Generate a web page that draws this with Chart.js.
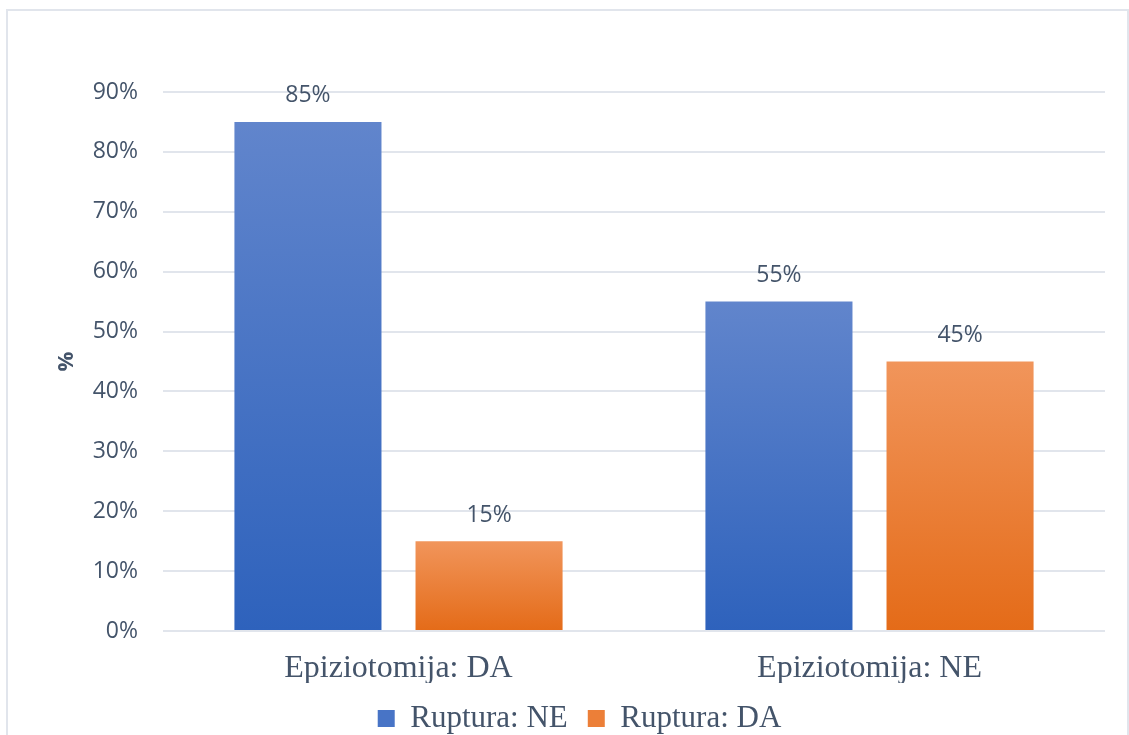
<!DOCTYPE html>
<html>
<head>
<meta charset="utf-8">
<script src="https://cdn.jsdelivr.net/npm/chart.js@4/dist/chart.umd.min.js"></script>
<style>
  body { margin: 0; background: #fff; }
  #wrap { position: relative; width: 1129px; height: 735px; }
  #okvir { position: absolute; left: 6px; top: 9px; width: 1119px; height: 760px; border: 2px solid #E1E5EC; pointer-events: none; }
</style>
</head>
<body>
<div id="wrap">
  <canvas id="grafik" width="1129" height="735"></canvas>
  <div id="okvir"></div>
</div>
<script>
// podaci
const kategorije = ["Epiziotomija: DA", "Epiziotomija: NE"];
const rupturaNE = [85, 55];
const rupturaDA = [15, 45];
const tickovi = [0, 10, 20, 30, 40, 50, 60, 70, 80, 90];

const tekstBoja = "#44546A";
const plavaGore = "#6185CC", plavaDolje = "#2E62BC";
const narGore = "#F1955B", narDolje = "#E46B18";

// gradijent po stupcu (svjetlije gore, tamnije dolje)
function gradijent(gore, dolje) {
    return function (ctx) {
        const chart = ctx.chart;
        const y = chart.scales.y;
        if (!chart.chartArea || !y || ctx.raw === undefined) return dolje;
        const vrh = y.getPixelForValue(ctx.raw);
        const dno = y.getPixelForValue(0);
        if (!isFinite(vrh) || !isFinite(dno) || vrh === dno) return dolje;
        const g = chart.ctx.createLinearGradient(0, vrh, 0, dno);
        g.addColorStop(0, gore);
        g.addColorStop(1, dolje);
        return g;
    };
}

// natpisi iznad stupaca
const natpisi = {
    id: "natpisi",
    afterDatasetsDraw(chart) {
        const ctx = chart.ctx;
        ctx.save();
        ctx.fillStyle = tekstBoja;
        ctx.font = "23px 'Open Sans', sans-serif";
        ctx.textAlign = "center";
        ctx.textBaseline = "middle";
        chart.data.datasets.forEach(function (ds, i) {
            chart.getDatasetMeta(i).data.forEach(function (bar, j) {
                ctx.fillText(ds.data[j] + "%", bar.x, bar.y - 26);
            });
        });
        ctx.restore();
    }
};

new Chart(document.getElementById("grafik"), {
    type: "bar",
    data: {
        labels: kategorije,
        datasets: [
            {
                label: "Ruptura: NE",
                data: rupturaNE,
                backgroundColor: gradijent(plavaGore, plavaDolje)
            },
            {
                label: "Ruptura: DA",
                data: rupturaDA,
                backgroundColor: gradijent(narGore, narDolje)
            }
        ]
    },
    options: {
        responsive: false,
        animation: false,
        datasets: {
            bar: { categoryPercentage: 0.769, barPercentage: 0.812 }
        },
        layout: { padding: { left: 54, right: 24, top: 92, bottom: -9 } },
        plugins: {
            legend: {
                position: "bottom",
                labels: {
                    color: tekstBoja,
                    font: { family: "'Liberation Serif', serif", size: 31 },
                    boxWidth: 17,
                    boxHeight: 17,
                    padding: 20,
                    generateLabels: function (chart) {
                        const boje = ["#4874C6", "#EC7F38"];
                        return Chart.defaults.plugins.legend.labels.generateLabels(chart).map(function (l, i) {
                            l.fillStyle = boje[i];
                            l.lineWidth = 0;
                            return l;
                        });
                    }
                }
            },
            tooltip: { enabled: false }
        },
        scales: {
            x: {
                grid: { display: false, drawTicks: false },
                border: { display: false },
                ticks: {
                    color: tekstBoja,
                    font: { family: "'Liberation Serif', serif", size: 32 },
                    padding: 18,
                    maxRotation: 0
                },
                afterFit: function (scale) { scale.height = 52; }
            },
            y: {
                min: 0,
                max: 90,
                afterBuildTicks: function (axis) {
                    axis.ticks = tickovi.map(function (v) { return { value: v }; });
                },
                grid: { color: "#E1E5EC", lineWidth: 2, drawTicks: false },
                border: { display: false },
                ticks: {
                    color: tekstBoja,
                    font: { family: "'Open Sans', sans-serif", size: 23 },
                    padding: 25,
                    callback: function (v) { return v + "%"; }
                },
                title: {
                    display: true,
                    text: "%",
                    color: tekstBoja,
                    font: { family: "'Open Sans', sans-serif", size: 22, weight: "bold" },
                    padding: 0
                },
                afterFit: function (scale) { scale.width = 109; }
            }
        }
    },
    plugins: [natpisi]
});
</script>
</body>
</html>
